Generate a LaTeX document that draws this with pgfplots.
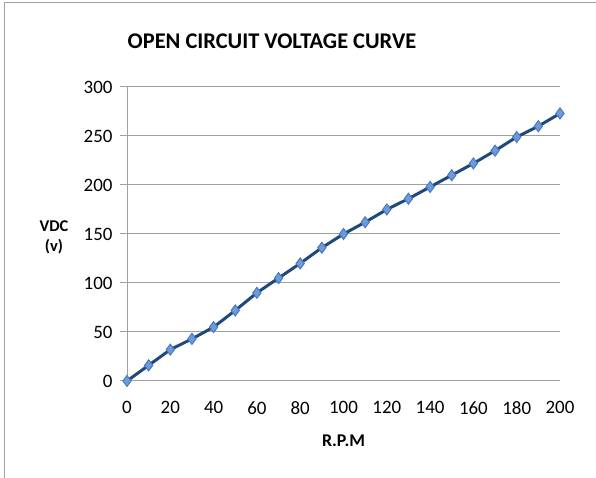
\documentclass[border=0pt]{standalone}
\usepackage{pgfplots}
\pgfplotsset{compat=1.18}
\usepackage{fontspec}
\setmainfont{Carlito}
\definecolor{linecol}{RGB}{31,73,125}
\definecolor{markfill}{RGB}{108,155,220}
\definecolor{markedge}{RGB}{75,120,190}
\definecolor{gridcol}{RGB}{160,160,160}
\begin{document}
\begin{tikzpicture}[x=1bp,y=1bp]
\useasboundingbox (0,0) rectangle (596,478);
\draw[gridcol, line width=1bp] (4,0) -- (4,475) -- (596,475);
\node[font=\bfseries\fontsize{22.5}{26}\selectfont] at (272,437) {OPEN CIRCUIT VOLTAGE CURVE};
\begin{axis}[
  at={(127bp,97bp)}, anchor=origin,
  scale only axis, width=433bp, height=294bp,
  xmin=0, xmax=200, ymin=0, ymax=300,
  xtick={0,20,...,200}, ytick={0,50,...,300},
  axis x line*=bottom, axis y line*=left,
  axis line style={gridcol, line width=1bp},
  ymajorgrids, grid style={gridcol, line width=1bp},
  tick align=outside, major tick length=7bp,
  xtick style={draw=none},
  ytick style={gridcol, line width=1bp},
  /pgf/number format/assume math mode=true,
  ticklabel style={font=\fontsize{19}{21}\selectfont, text=black},
  xticklabel style={yshift=-10bp},
  yticklabel style={xshift=-4bp},
  xlabel={R.P.M}, ylabel={VDC\\(v)},
  xlabel style={at={(axis description cs:0.5,-0.203)}, anchor=center, font=\bfseries\fontsize{18}{20}\selectfont},
  ylabel style={at={(axis description cs:-0.1686,0.49)}, anchor=center, rotate=-90, align=center, font=\bfseries\fontsize{16.5}{20}\selectfont},
]
\addplot[linecol, line width=3bp, mark=diamond*, mark size=5.5bp,
  mark options={fill=markfill, draw=markedge, line width=1bp}]
coordinates {
(0,0) (10,16) (20,32) (30,43) (40,55) (50,72) (60,90) (70,105) (80,120) (90,136)
(100,150) (110,162) (120,175) (130,186) (140,198) (150,210) (160,222) (170,235)
(180,249) (190,260) (200,273)
};
\end{axis}
\end{tikzpicture}
\end{document}
